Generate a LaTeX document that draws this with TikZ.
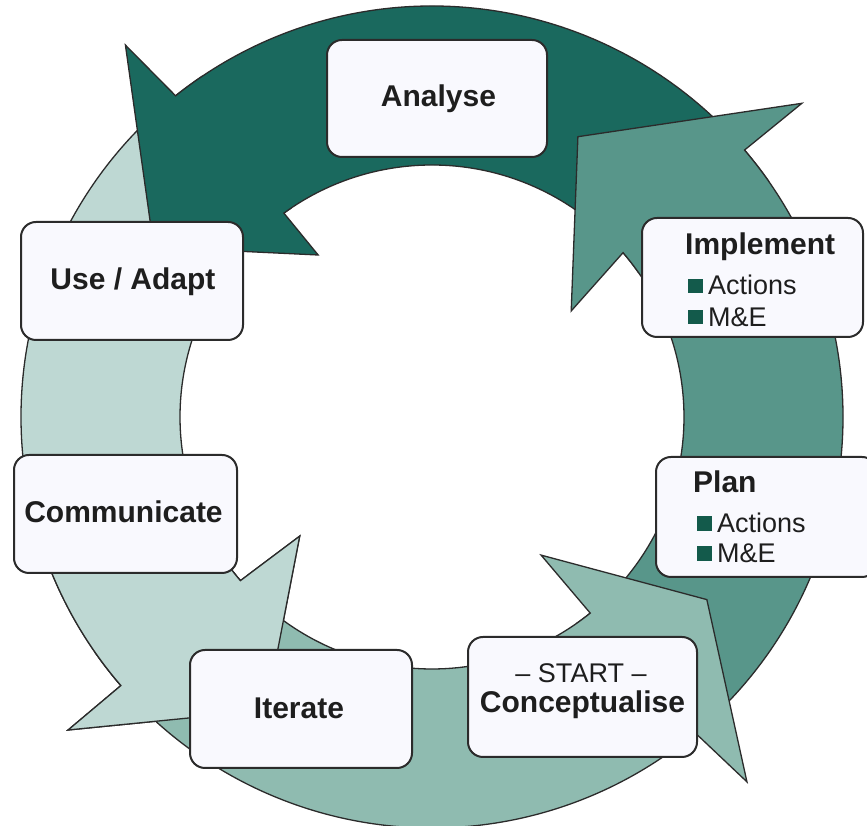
\documentclass[tikz,border=0pt]{standalone}
\usepackage{fontspec}
\setmainfont{Liberation Sans}
\definecolor{cDark}{HTML}{1A695E}
\definecolor{cMed}{HTML}{58968A}
\definecolor{cLM}{HTML}{8FBBB0}
\definecolor{cLight}{HTML}{BED8D3}
\definecolor{boxfill}{HTML}{F9F9FE}
\definecolor{edgecol}{HTML}{2B2B2B}
\definecolor{bulletcol}{HTML}{135A4B}
\definecolor{txtcol}{HTML}{1E1E1E}
\tikzset{
  ringarrow/.style={draw=edgecol, line width=1.3pt, line join=miter},
  stage/.style={draw=edgecol, fill=boxfill, line width=2pt, rounded corners=15pt, inner sep=0pt},
  boldlbl/.style={font=\fontsize{30}{36}\selectfont\bfseries, inner sep=0pt, text=txtcol},
  reglbl/.style={font=\fontsize{27}{32}\selectfont, inner sep=0pt, text=txtcol},
  bul/.style={fill=bulletcol, draw=none, minimum size=14.5pt, inner sep=0pt, anchor=north west},
}
\begin{document}
\begin{tikzpicture}[x=1pt,y=1pt]
\clip (0,0) rectangle (867,826);
\fill[white] (0,0) rectangle (867,826);
\begin{scope}[shift={(432,409)}]
  % lightest arrow (left side)
  \draw[ringarrow, fill=cLight] (124:252) -- (124:411) arc[start angle=124, end angle=220.8, radius=411]
    -- (220.7:480) -- (240.5:337) -- (222.0:178) -- (220.5:252) arc[start angle=220.5, end angle=124, radius=252] -- cycle;
  % dark arrow (top)
  \draw[ringarrow, fill=cDark] (35:252) -- (35:411) arc[start angle=35, end angle=128.6, radius=411]
    -- (129.5:482) -- (148.6:326) -- (125.1:198) -- (126.0:252) arc[start angle=126.0, end angle=35, radius=252] -- cycle;
  % medium arrow (right side)
  \draw[ringarrow, fill=cMed] (-55:252) -- (-55:411) arc[start angle=-55, end angle=40.5, radius=411]
    -- (40.3:485) -- (62.5:316) -- (37.3:175) -- (40.7:252) arc[start angle=40.7, end angle=-55, radius=252] -- cycle;
  % light-medium arrow (bottom)
  \draw[ringarrow, fill=cLM] (215:252) -- (215:411) arc[start angle=215, end angle=309.8, radius=411]
    -- (310.8:482) -- (326.4:330) -- (308.3:176) -- (308.9:252) arc[start angle=308.9, end angle=215, radius=252] -- cycle;
  % lightest arrow again, only its lower part, to lie over the bottom arrow's tail
  \begin{scope}
    \clip (-520,-80) rectangle (0,-520);
    \draw[ringarrow, fill=cLight] (124:252) -- (124:411) arc[start angle=124, end angle=220.8, radius=411]
      -- (220.7:480) -- (240.5:337) -- (222.0:178) -- (220.5:252) arc[start angle=220.5, end angle=124, radius=252] -- cycle;
  \end{scope}
\end{scope}

% boxes
\node[stage, minimum width=220pt, minimum height=117pt] (analyse) at (437,727.5) {};
\node[boldlbl, anchor=base] (analyseT) at (438.5,719) {Analyse};

\node[stage, minimum width=222pt, minimum height=118pt] (useadapt) at (132,545) {};
\node[boldlbl, anchor=base] (useadaptT) at (133,536) {Use / Adapt};

\node[stage, minimum width=223pt, minimum height=118pt] (communicate) at (125.5,312) {};
\node[boldlbl, anchor=base] (communicateT) at (123.5,303) {Communicate};

\node[stage, minimum width=222pt, minimum height=118pt] (iterate) at (301,117) {};
\node[boldlbl, anchor=base] (iterateT) at (299,107) {Iterate};

\node[stage, minimum width=229pt, minimum height=120pt] (concept) at (582.5,129) {};
\node[reglbl, anchor=base] (startT) at (581,143) {– START –};
\node[boldlbl, anchor=base] (conceptT) at (582.5,113) {Conceptualise};

\node[stage, minimum width=221pt, minimum height=119pt] (implement) at (752.5,548.5) {};
\node[boldlbl, anchor=base west] (implementT) at (685,571) {Implement};
\node[bul] (implB1) at (688,547.5) {};
\node[reglbl, anchor=base west] (implA) at (708,531.5) {Actions};
\node[bul] (implB2) at (688,516.5) {};
\node[reglbl, anchor=base west] (implM) at (708,499) {M\&E};

\node[stage, minimum width=221pt, minimum height=120pt] (plan) at (766.5,309) {};
\node[boldlbl, anchor=base west] (planT) at (693,333) {Plan};
\node[bul] (planB1) at (697,310) {};
\node[reglbl, anchor=base west] (planA) at (717,293) {Actions};
\node[bul] (planB2) at (697,280) {};
\node[reglbl, anchor=base west] (planM) at (717,263) {M\&E};
\end{tikzpicture}
\end{document}
